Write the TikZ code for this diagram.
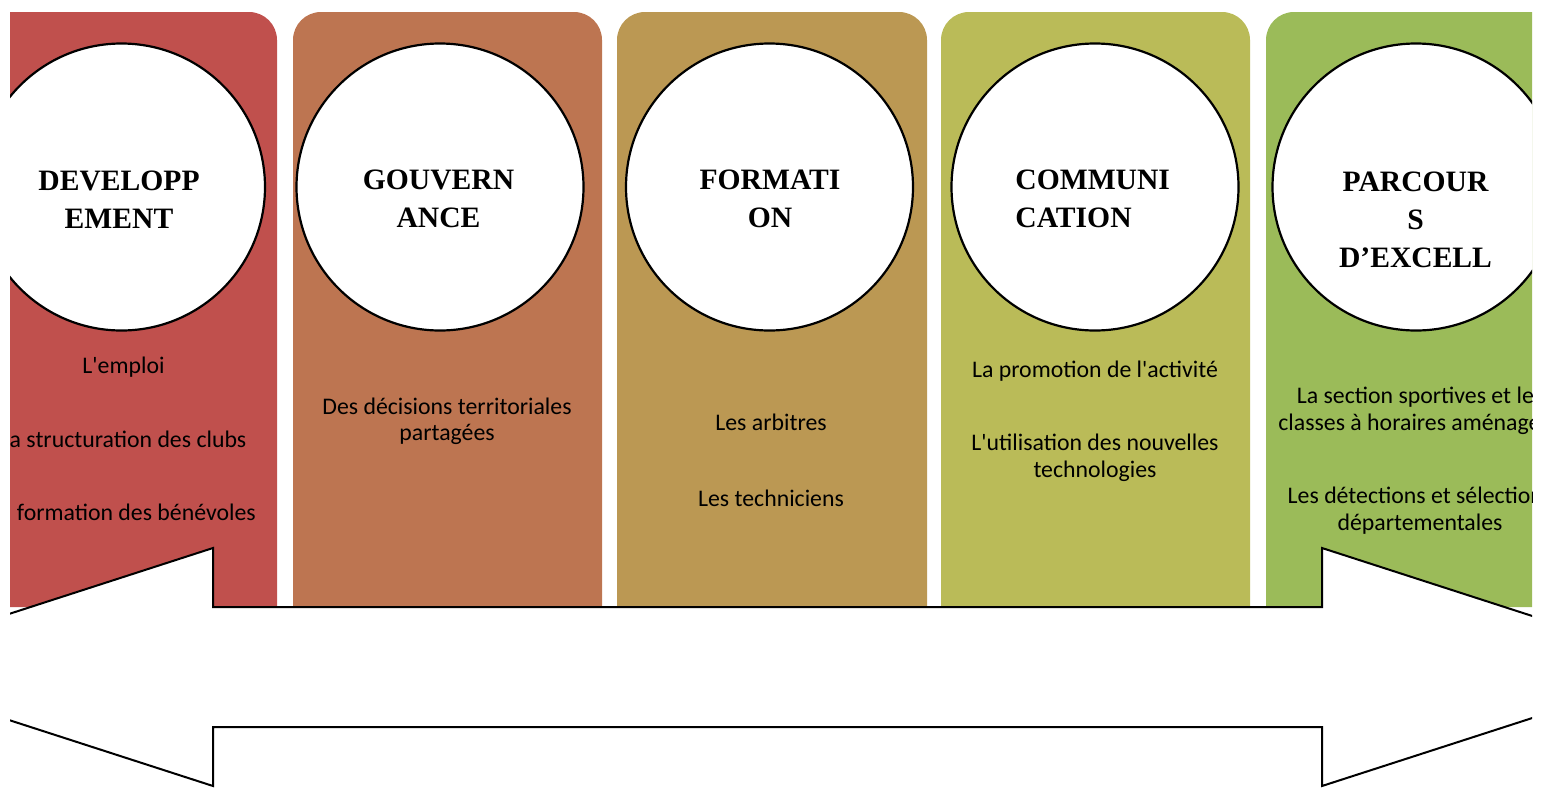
\documentclass[tikz,border=0pt]{standalone}
\usepackage{fontspec}
\setmainfont{Liberation Serif}
\newfontfamily\bodyfont{Carlito}
\definecolor{colA}{RGB}{192,80,77}
\definecolor{colB}{RGB}{189,117,81}
\definecolor{colC}{RGB}{187,152,83}
\definecolor{colD}{RGB}{186,187,88}
\definecolor{colE}{RGB}{155,187,89}
\newcommand{\apos}{\textquotesingle}
\tikzset{
  titre/.style={font=\fontsize{14.8}{19}\selectfont\bfseries, align=center, anchor=base, inner sep=0pt},
  item/.style={font=\bodyfont\fontsize{11.9}{13.25}\selectfont, align=center, anchor=base, inner sep=0pt},
  rond/.style={draw=black, fill=white, line width=1.1pt},
}
\begin{document}
\begin{tikzpicture}[x=0.5pt, y=-0.5pt]
\useasboundingbox (0,0) rectangle (1542,798);
\begin{scope}
\clip (10,0) rectangle (1532,798);
    % columns
    \path[fill=colA] (-32,607) [rounded corners=14pt] -- (-32,12) -- (277,12) [sharp corners] -- (277,607) -- cycle;
    \path[fill=colB] (293,607) [rounded corners=14pt] -- (293,12) -- (602,12) [sharp corners] -- (602,607) -- cycle;
    \path[fill=colC] (617,607) [rounded corners=14pt] -- (617,12) -- (927,12) [sharp corners] -- (927,607) -- cycle;
    \path[fill=colD] (941,607) [rounded corners=14pt] -- (941,12) -- (1250,12) [sharp corners] -- (1250,607) -- cycle;
    \path[fill=colE] (1266,607) [rounded corners=14pt] -- (1266,12) -- (1575,12) [sharp corners] -- (1575,607) -- cycle;
    % circles
    \path[rond] (121.5,187) circle[radius=143.5];
    \path[rond] (440,187) circle[radius=143.5];
    \path[rond] (769.5,187) circle[radius=143.5];
    \path[rond] (1095,187) circle[radius=143.5];
    \path[rond] (1416,187) circle[radius=143.5];
    % titles (base = last line)
    \node[titre] (developpement) at (119,228) {DEVELOPP\\EMENT};
    \node[titre] (gouvernance) at (438.5,227.5) {GOUVERN\\ANCE};
    \node[titre] (formation) at (770,227.5) {FORMATI\\ON};
    \node[titre, anchor=base west, align=left] (communication) at (1015,227.5) {COMMUNI\\CATION};
    \node[titre] (parcours) at (1415.5,267) {PARCOUR\\S\\D’EXCELL};
    % items
    \node[item] (emploi) at (123.5,373) {L\apos emploi};
    \node[item] (structuration) at (123,447) {La structuration des clubs};
    \node[item] (benevoles) at (123,520) {La formation des bénévoles};
    \node[item] (decisions) at (447,440.5) {Des décisions territoriales\\partagées};
    \node[item] (arbitres) at (771,430) {Les arbitres};
    \node[item] (techniciens) at (771,506) {Les techniciens};
    \node[item] (promotion) at (1095,377) {La promotion de l\apos activité};
    \node[item] (technologies) at (1095,477) {L\apos utilisation des nouvelles\\technologies};
    \node[item] (sections) at (1420,430) {La section sportives et les\\classes à horaires aménagées};
    \node[item] (detections) at (1420,530) {Les détections et sélections\\départementales};
    % double arrow
    \path[draw=black, fill=white, line join=miter, line width=1pt]
      (-155,667) -- (213,548) -- (213,607) -- (1322,607) -- (1322,548) --
      (1690,667) -- (1322,786) -- (1322,727) -- (213,727) -- (213,786) -- cycle;
\end{scope}
\end{tikzpicture}
\end{document}
